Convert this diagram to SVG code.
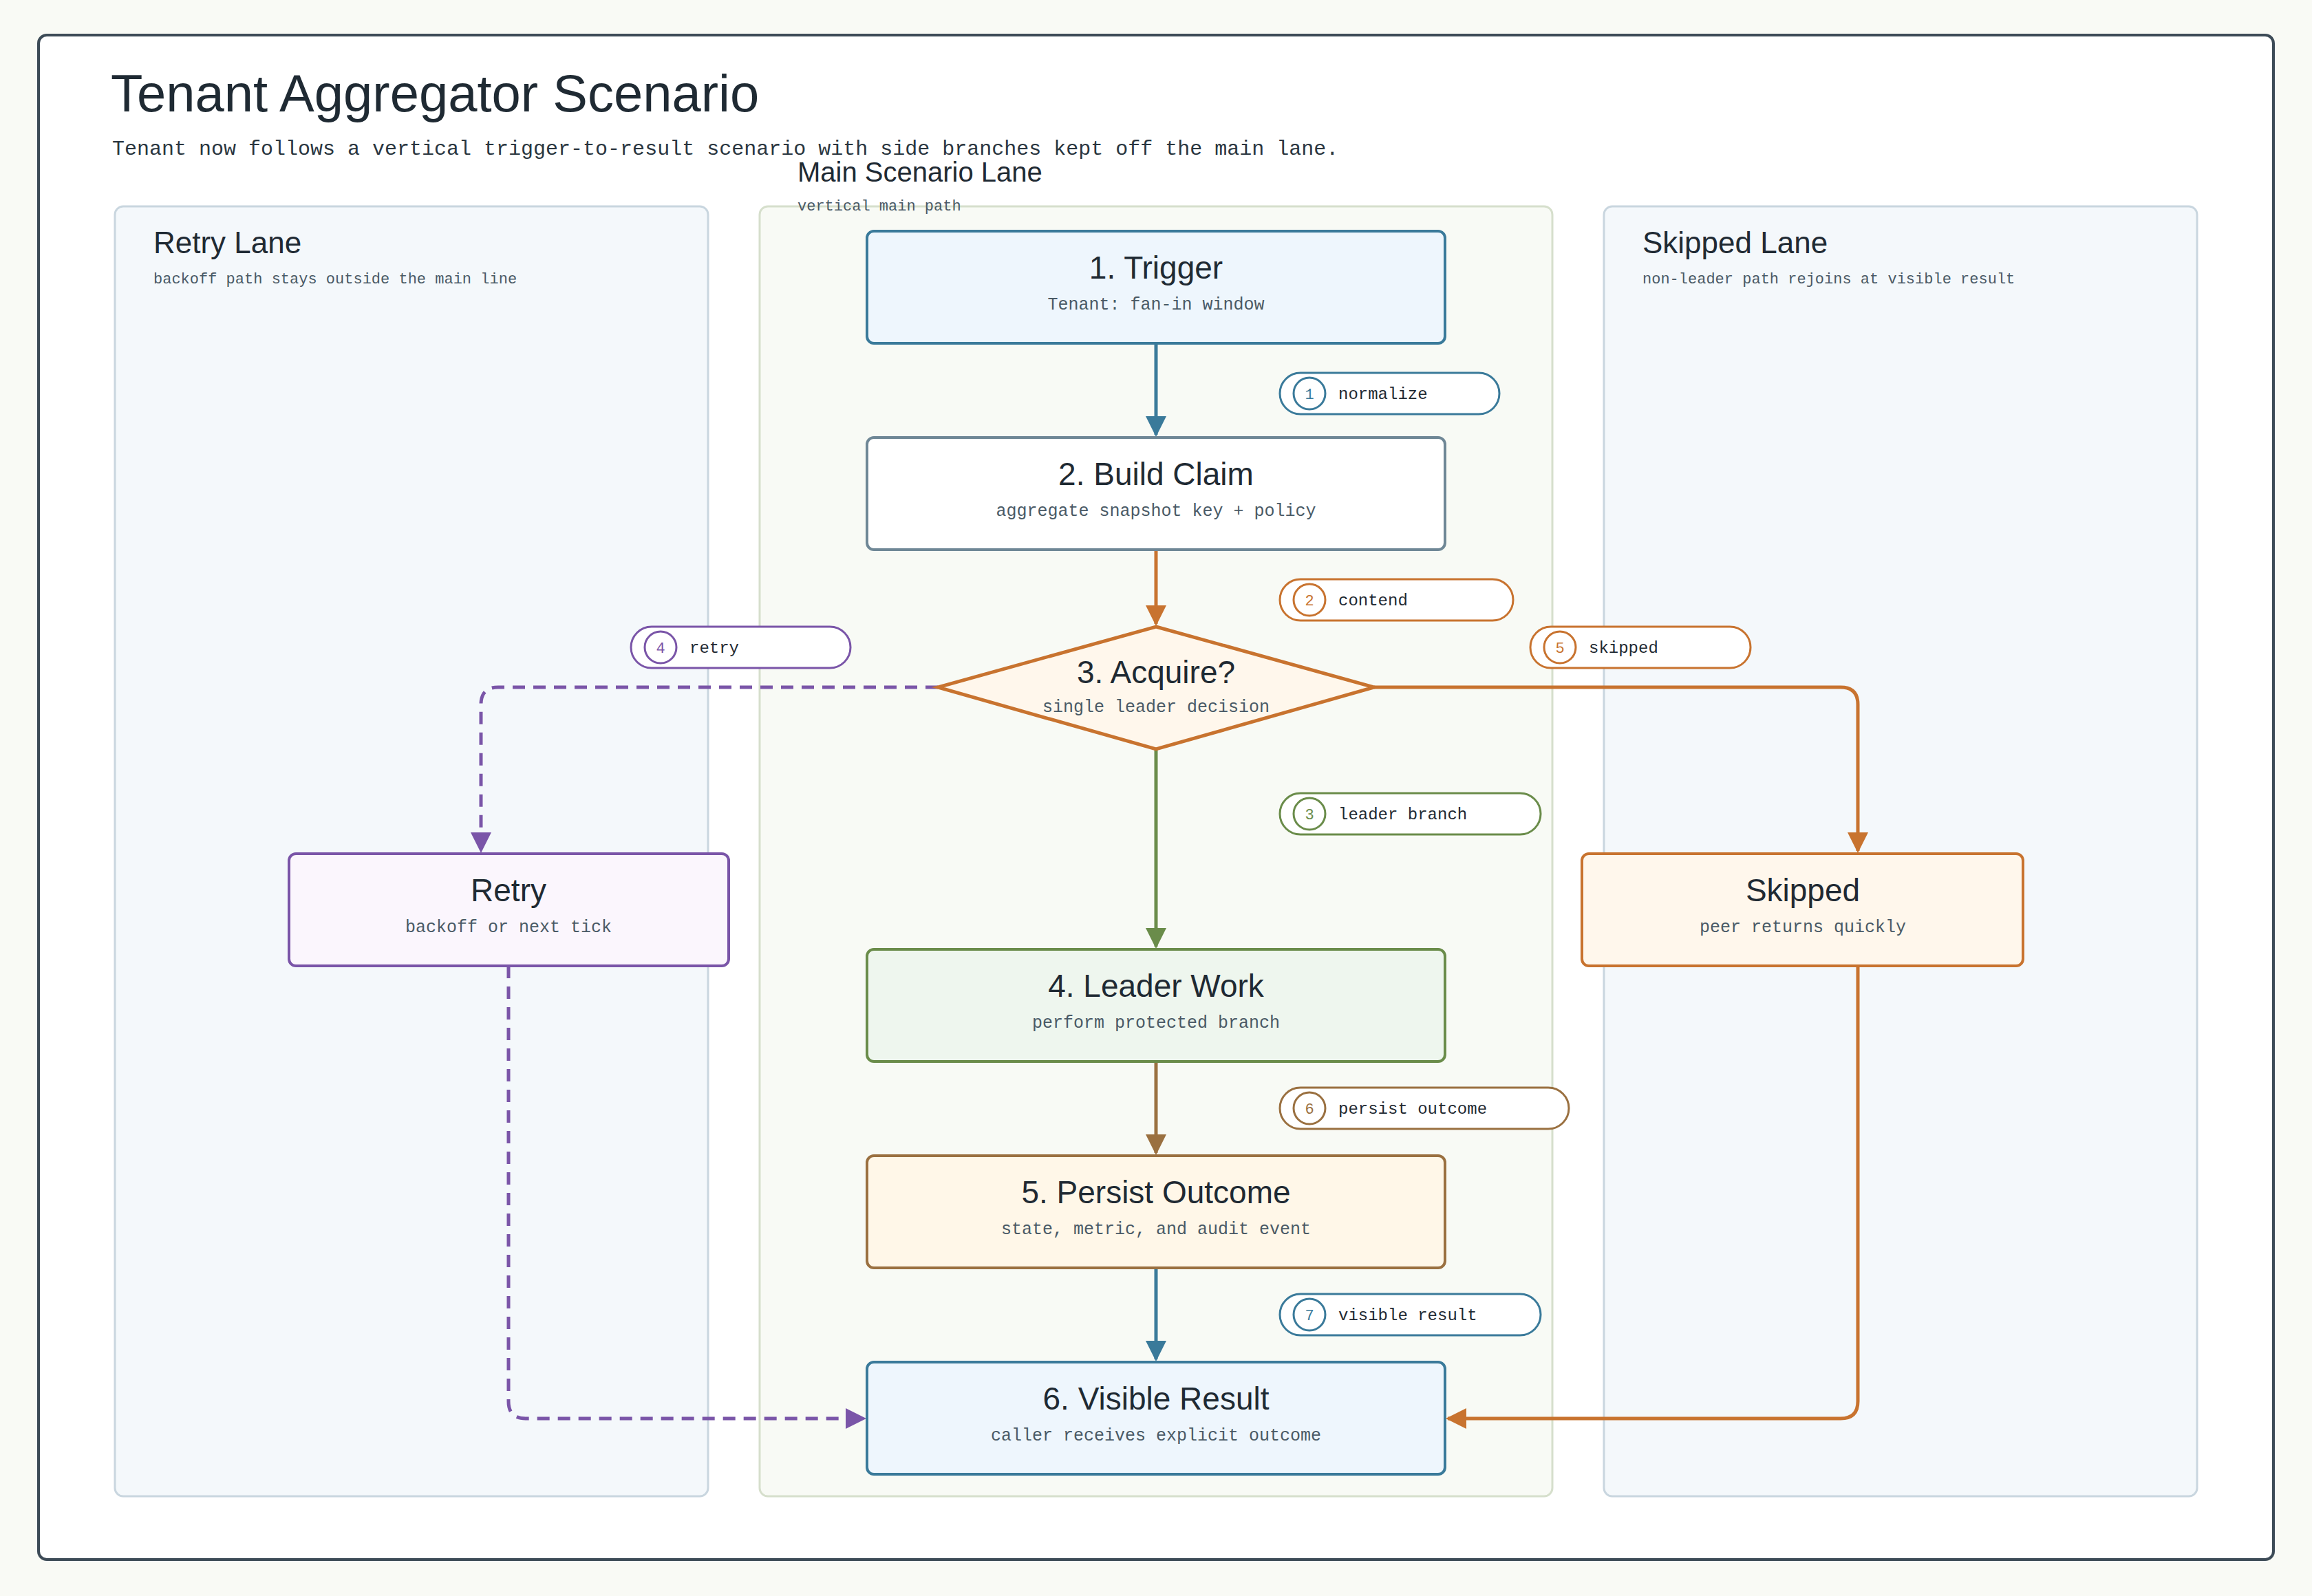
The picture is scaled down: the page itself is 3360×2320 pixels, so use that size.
<svg xmlns="http://www.w3.org/2000/svg" width="3360" height="2320" viewBox="0 0 3360 2320">
<style>
.h{font-family:"Liberation Sans","DejaVu Sans",sans-serif;fill:#1f2a33}
.m{font-family:"Liberation Mono","DejaVu Sans Mono",monospace;fill:#4a5a66}
.nt{font-size:46px;text-anchor:middle}
.ns{font-size:25px;text-anchor:middle}
.pt{font-size:24px;fill:#1f2a33}
.pn{font-size:22px;text-anchor:middle}
.e{fill:none;stroke-width:5}
</style>
<defs>
<marker id="ab" viewBox="0 0 10 10" refX="9" refY="5" markerWidth="6" markerHeight="6" orient="auto"><path d="M0,0L10,5L0,10z" fill="#3a7a9a"/></marker>
<marker id="ao" viewBox="0 0 10 10" refX="9" refY="5" markerWidth="6" markerHeight="6" orient="auto"><path d="M0,0L10,5L0,10z" fill="#c8732f"/></marker>
<marker id="ag" viewBox="0 0 10 10" refX="9" refY="5" markerWidth="6" markerHeight="6" orient="auto"><path d="M0,0L10,5L0,10z" fill="#6a8c4a"/></marker>
<marker id="aw" viewBox="0 0 10 10" refX="9" refY="5" markerWidth="6" markerHeight="6" orient="auto"><path d="M0,0L10,5L0,10z" fill="#9a7040"/></marker>
<marker id="ap" viewBox="0 0 10 10" refX="9" refY="5" markerWidth="6" markerHeight="6" orient="auto"><path d="M0,0L10,5L0,10z" fill="#7a55a8"/></marker>
</defs>
<rect width="3360" height="2320" fill="#f9faf5"/>
<rect x="56" y="51" width="3248" height="2216" rx="12" fill="#fff" stroke="#3d4b57" stroke-width="4"/>
<text x="161" y="162" class="h" font-size="76">Tenant Aggregator Scenario</text>
<text x="163" y="225" class="m" font-size="30" style="fill:#2a3640">Tenant now follows a vertical trigger-to-result scenario with side branches kept off the main lane.</text>
<g id="lanes">
<rect x="167" y="300" width="862" height="1875" rx="12" fill="#f4f8fb" stroke="#c9d6df" stroke-width="3"/>
<text x="223" y="368" class="h" font-size="44">Retry Lane</text>
<text x="223" y="412" class="m" font-size="22">backoff path stays outside the main line</text>
<rect x="1104" y="300" width="1152" height="1875" rx="12" fill="#f8faf5" stroke="#d6dfcc" stroke-width="3"/>
<text x="1159" y="264" class="h" font-size="40">Main Scenario Lane</text>
<text x="1159" y="306" class="m" font-size="22">vertical main path</text>
<rect x="2331" y="300" width="862" height="1875" rx="12" fill="#f4f8fb" stroke="#c9d6df" stroke-width="3"/>
<text x="2387" y="368" class="h" font-size="44">Skipped Lane</text>
<text x="2387" y="412" class="m" font-size="22">non-leader path rejoins at visible result</text>
</g>
<g id="connectors">
<path class="e" stroke="#3a7a9a" d="M1680,499V632" marker-end="url(#ab)"/>
<path class="e" stroke="#c8732f" d="M1680,799V907" marker-end="url(#ao)"/>
<path class="e" stroke="#6a8c4a" d="M1680,1089V1376" marker-end="url(#ag)"/>
<path class="e" stroke="#9a7040" d="M1680,1543V1676" marker-end="url(#aw)"/>
<path class="e" stroke="#3a7a9a" d="M1680,1843V1976" marker-end="url(#ab)"/>
<path class="e" stroke="#7a55a8" stroke-dasharray="18,12" d="M1363,999H724Q699,999 699,1024V1237" marker-end="url(#ap)"/>
<path class="e" stroke="#7a55a8" stroke-dasharray="18,12" d="M739,1404V2037Q739,2062 764,2062H1256" marker-end="url(#ap)"/>
<path class="e" stroke="#c8732f" d="M1997,999H2675Q2700,999 2700,1024V1237" marker-end="url(#ao)"/>
<path class="e" stroke="#c8732f" d="M2700,1404V2037Q2700,2062 2675,2062H2104" marker-end="url(#ao)"/>
</g>
<g id="n1"><rect x="1260" y="336" width="840" height="163" rx="10" fill="#eef6fd" stroke="#3a7a9a" stroke-width="4"/><text x="1680" y="405" class="h nt">1. Trigger</text><text x="1680" y="450" class="m ns">Tenant: fan-in window</text></g>
<g id="n2"><rect x="1260" y="636" width="840" height="163" rx="10" fill="#fff" stroke="#6f8796" stroke-width="4"/><text x="1680" y="705" class="h nt">2. Build Claim</text><text x="1680" y="750" class="m ns">aggregate snapshot key + policy</text></g>
<g id="n3"><polygon points="1680,911 1997,999 1680,1089 1363,999" fill="#fff7ec" stroke="#c8732f" stroke-width="5"/><text x="1680" y="993" class="h nt">3. Acquire?</text><text x="1680" y="1035" class="m ns">single leader decision</text></g>
<g id="n4"><rect x="1260" y="1380" width="840" height="163" rx="10" fill="#eef6ee" stroke="#6a8c4a" stroke-width="4"/><text x="1680" y="1449" class="h nt">4. Leader Work</text><text x="1680" y="1494" class="m ns">perform protected branch</text></g>
<g id="n5"><rect x="1260" y="1680" width="840" height="163" rx="10" fill="#fff7e8" stroke="#9a7040" stroke-width="4"/><text x="1680" y="1749" class="h nt">5. Persist Outcome</text><text x="1680" y="1794" class="m ns">state, metric, and audit event</text></g>
<g id="n6"><rect x="1260" y="1980" width="840" height="163" rx="10" fill="#eef6fd" stroke="#3a7a9a" stroke-width="4"/><text x="1680" y="2049" class="h nt">6. Visible Result</text><text x="1680" y="2094" class="m ns">caller receives explicit outcome</text></g>
<g id="retry"><rect x="420" y="1241" width="639" height="163" rx="10" fill="#fbf6fd" stroke="#7a55a8" stroke-width="4"/><text x="739" y="1310" class="h nt">Retry</text><text x="739" y="1355" class="m ns">backoff or next tick</text></g>
<g id="skipped"><rect x="2299" y="1241" width="641" height="163" rx="10" fill="#fff7ec" stroke="#c8732f" stroke-width="4"/><text x="2620" y="1310" class="h nt">Skipped</text><text x="2620" y="1355" class="m ns">peer returns quickly</text></g>
<g id="labels">
<g><rect x="1860" y="542" width="319" height="60" rx="30" fill="#fff" stroke="#3a7a9a" stroke-width="3"/><circle cx="1903" cy="572" r="23" fill="#fff" stroke="#3a7a9a" stroke-width="3"/><text x="1903" y="580" class="m pn" style="fill:#3a7a9a">1</text><text x="1945" y="580" class="m pt">normalize</text></g>
<g><rect x="1860" y="842" width="339" height="60" rx="30" fill="#fff" stroke="#c8732f" stroke-width="3"/><circle cx="1903" cy="872" r="23" fill="#fff" stroke="#c8732f" stroke-width="3"/><text x="1903" y="880" class="m pn" style="fill:#c8732f">2</text><text x="1945" y="880" class="m pt">contend</text></g>
<g><rect x="1860" y="1153" width="379" height="60" rx="30" fill="#fff" stroke="#6a8c4a" stroke-width="3"/><circle cx="1903" cy="1183" r="23" fill="#fff" stroke="#6a8c4a" stroke-width="3"/><text x="1903" y="1191" class="m pn" style="fill:#6a8c4a">3</text><text x="1945" y="1191" class="m pt">leader branch</text></g>
<g><rect x="917" y="911" width="319" height="60" rx="30" fill="#fff" stroke="#7a55a8" stroke-width="3"/><circle cx="960" cy="941" r="23" fill="#fff" stroke="#7a55a8" stroke-width="3"/><text x="960" y="949" class="m pn" style="fill:#7a55a8">4</text><text x="1002" y="949" class="m pt">retry</text></g>
<g><rect x="2224" y="911" width="320" height="60" rx="30" fill="#fff" stroke="#c8732f" stroke-width="3"/><circle cx="2267" cy="941" r="23" fill="#fff" stroke="#c8732f" stroke-width="3"/><text x="2267" y="949" class="m pn" style="fill:#c8732f">5</text><text x="2309" y="949" class="m pt">skipped</text></g>
<g><rect x="1860" y="1581" width="420" height="60" rx="30" fill="#fff" stroke="#9a7040" stroke-width="3"/><circle cx="1903" cy="1611" r="23" fill="#fff" stroke="#9a7040" stroke-width="3"/><text x="1903" y="1619" class="m pn" style="fill:#9a7040">6</text><text x="1945" y="1619" class="m pt">persist outcome</text></g>
<g><rect x="1860" y="1881" width="379" height="60" rx="30" fill="#fff" stroke="#3a7a9a" stroke-width="3"/><circle cx="1903" cy="1911" r="23" fill="#fff" stroke="#3a7a9a" stroke-width="3"/><text x="1903" y="1919" class="m pn" style="fill:#3a7a9a">7</text><text x="1945" y="1919" class="m pt">visible result</text></g>
</g>
</svg>
